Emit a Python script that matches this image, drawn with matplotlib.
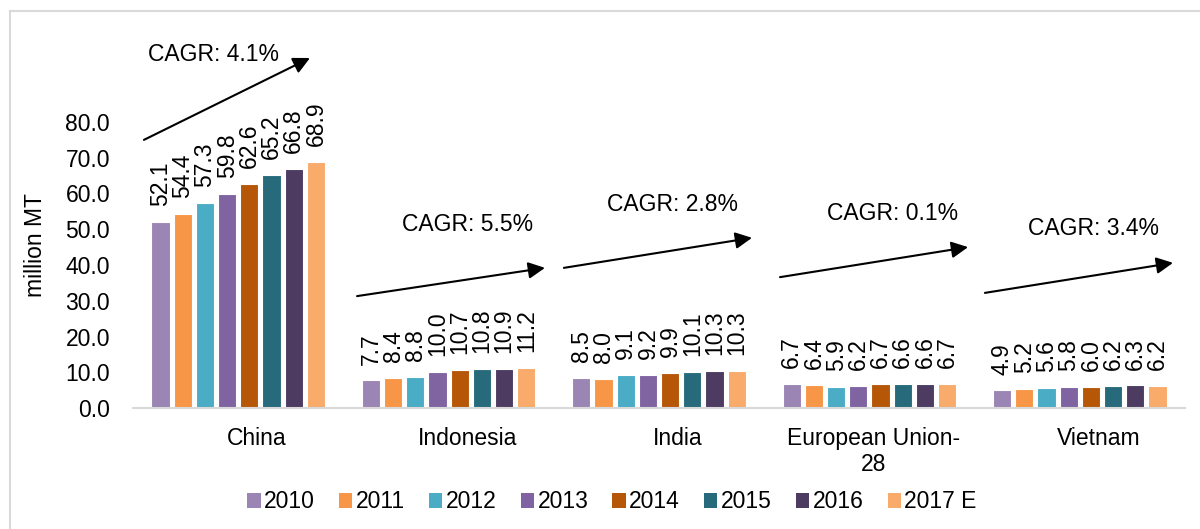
import matplotlib
import matplotlib.pyplot as plt
import numpy as np
from matplotlib.lines import Line2D
from matplotlib.patches import Patch

matplotlib.use('Agg')

plt.rcParams['font.family'] = ['Liberation Sans', 'DejaVu Sans']

# data
countries = ['China', 'Indonesia', 'India', 'European Union-\n28', 'Vietnam']
years = ['2010', '2011', '2012', '2013', '2014', '2015', '2016', '2017 E']
values = {
    '2010': [52.1, 7.7, 8.5, 6.7, 4.9],
    '2011': [54.4, 8.4, 8.0, 6.4, 5.2],
    '2012': [57.3, 8.8, 9.1, 5.9, 5.6],
    '2013': [59.8, 10.0, 9.2, 6.2, 5.8],
    '2014': [62.6, 10.7, 9.9, 6.7, 6.0],
    '2015': [65.2, 10.8, 10.1, 6.6, 6.2],
    '2016': [66.8, 10.9, 10.3, 6.6, 6.3],
    '2017 E': [68.9, 11.2, 10.3, 6.7, 6.2],
}
cagr_labels = ['CAGR: 4.1%', 'CAGR: 5.5%', 'CAGR: 2.8%', 'CAGR: 0.1%', 'CAGR: 3.4%']

# annotation placement (data coords)
arrow_start = [(-0.448, 75.0), (0.565, 31.3), (1.548, 39.2), (2.575, 36.6), (3.549, 32.2)]
arrow_end = [(0.341, 97.9), (1.458, 39.2), (2.442, 47.6), (3.469, 45.0), (4.443, 40.6)]
cagr_pos = [(-0.118, 99.0), (1.092, 51.2), (2.062, 56.8), (3.112, 54.5), (4.063, 50.3)]

colors = ['#9B85B4', '#F79646', '#4BACC6', '#8064A2', '#B65708', '#276A7C', '#4D3B62', '#F9AB6B']

FS = 16.5

fig = plt.figure(figsize=(12, 5.29), dpi=100)
ax = fig.add_axes([133 / 1200, 121 / 529, 1052 / 1200, 286 / 529])

x = np.arange(len(countries))
pitch = 0.1055
bar_w = 0.086
for k, yr in enumerate(years):
    offs = (k - (len(years) - 1) / 2) * pitch
    bars = ax.bar(x + offs, values[yr], width=bar_w, color=colors[k],
                  edgecolor='white', linewidth=0.8, label=yr, zorder=2)
    for b, v in zip(bars, values[yr]):
        ax.annotate(f"{v:.1f}", (b.get_x() + b.get_width() / 2, v),
                    xytext=(0, 11.5), textcoords='offset points',
                    rotation=90, ha='center', va='bottom', fontsize=FS)

ax.set_xlim(-0.5, 4.5)
ax.set_ylim(0, 80)
ax.set_yticks(np.arange(0, 81, 10))
ax.set_yticklabels([f"{t:.1f}" for t in np.arange(0, 81, 10)], fontsize=FS)
ax.tick_params(axis='y', length=0, pad=16.5)
ax.set_xticks([])
for s in ['top', 'right', 'left']:
    ax.spines[s].set_visible(False)
ax.spines['bottom'].set_color('#D9D9D9')
ax.spines['bottom'].set_linewidth(1.5)

# category labels, shifted a bit right like the original
for i, name in enumerate(countries):
    shift = 0.02 if '\n' in name else 0.09
    ax.annotate(name, (i + shift, 0), xytext=(0, -14), textcoords='offset points',
                ha='center', va='top', fontsize=FS, linespacing=1.15,
                annotation_clip=False)

# CAGR arrows
for s, e, (tx, ty), lab in zip(arrow_start, arrow_end, cagr_pos, cagr_labels):
    ax.annotate('', xy=e, xytext=s, annotation_clip=False,
                arrowprops=dict(arrowstyle='-|>', mutation_scale=25, lw=1.5,
                                color='black', shrinkA=0, shrinkB=0))
    ax.text(tx, ty, lab, ha='center', va='center', fontsize=FS, clip_on=False)

fig.text(36 / 1200, 1 - 245 / 529, 'million MT', rotation=90,
         ha='center', va='center', fontsize=FS)

handles = [Patch(facecolor=c, edgecolor='none') for c in colors]
fig.legend(handles, years, loc='center', bbox_to_anchor=(612 / 1200, 1 - 502 / 529),
           ncol=len(years), frameon=False, fontsize=FS, handlelength=0.585,
           handleheight=0.585, handletextpad=0.15, columnspacing=1.05)

# outer frame (left and top edges visible)
fig.add_artist(Line2D([10 / 1200, 10 / 1200], [0, 1 - 11 / 529], color='#D9D9D9', lw=1.5))
fig.add_artist(Line2D([10 / 1200, 1], [1 - 11 / 529, 1 - 11 / 529], color='#D9D9D9', lw=1.5))

plt.savefig('out.png', dpi=100)
plt.close()
